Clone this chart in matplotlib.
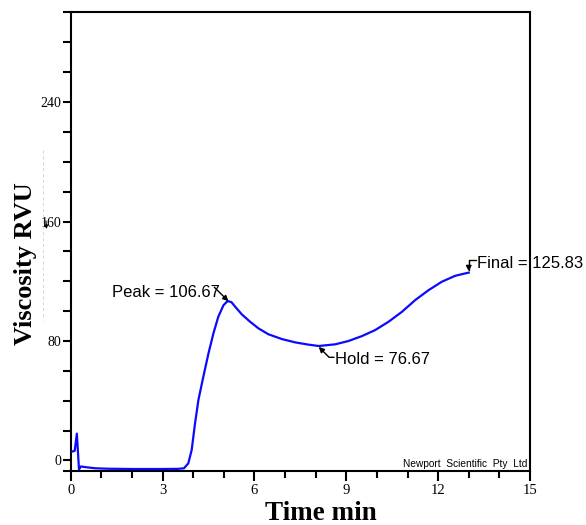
import matplotlib
matplotlib.use("Agg")
import matplotlib.pyplot as plt
from matplotlib.lines import Line2D

# RVA pasting curve (time in min, viscosity in RVU)
time_min = [0.05, 0.13, 0.20, 0.27, 0.33, 0.5, 0.8, 1.2, 2.0, 3.0, 3.5, 3.7,
            3.84, 3.95, 4.06, 4.17, 4.33, 4.5, 4.66, 4.82, 4.99, 5.1, 5.15,
            5.25, 5.37, 5.59, 5.86, 6.13, 6.46, 6.9, 7.33, 7.76, 8.1, 8.64,
            9.07, 9.51, 9.94, 10.38, 10.82, 11.25, 11.69, 12.12, 12.56, 13.0]
viscosity = [6, 6.5, 18, -6, -4, -4.5, -5.2, -5.5, -5.7, -5.7, -5.6, -5.2,
             -1.9, 7, 24.9, 40.5, 56, 71.8, 85.1, 96.3, 104, 106.3, 106.67,
             106, 103, 97.8, 92.9, 88.5, 84.5, 81.3, 79.1, 77.6, 76.67, 77.8,
             80, 83.3, 87.3, 92.9, 99.6, 107.4, 114.1, 119.7, 123.7, 125.83]

peak = (5.15, 106.67)
hold = (8.1, 76.67)
final = (13.0, 125.83)

xticks = [0, 3, 6, 9, 12, 15]
yticks = [0, 80, 160, 240]

serif = "Liberation Serif"
sans = "Liberation Sans"

fig = plt.figure(figsize=(5.86, 5.25), dpi=100)
ax = fig.add_axes([0.1207, 0.1038, 0.7837, 0.8724])

ax.plot(time_min, viscosity, color="#0a0aff", lw=1.6, zorder=3,
        solid_joinstyle="round")

ax.set_xlim(0, 15)
ax.set_ylim(-6.7, 300)

ax.set_xticks(xticks)
ax.set_xticks(range(0, 16), minor=True)
ax.set_yticks(yticks)
ax.set_yticks([-6.7] + list(range(0, 281, 20)) + [300], minor=True)

for s in ax.spines.values():
    s.set_linewidth(1.5)
ax.tick_params(axis="x", which="major", length=7, width=1.5, pad=2.5,
               labelsize=10.5)
ax.tick_params(axis="x", which="minor", length=5, width=1.5)
ax.tick_params(axis="y", which="both", length=6, width=1.5, pad=0.5,
               labelsize=10)
for lab in ax.get_xticklabels() + ax.get_yticklabels():
    lab.set_family(serif)

ax.set_xlabel("Time min", family=serif, fontweight="bold", fontsize=19.5)
ax.set_ylabel("Viscosity RVU", family=serif, fontweight="bold", fontsize=19)
ax.xaxis.set_label_coords(0.545, -0.066)
ax.yaxis.set_label_coords(-0.074, 0.452)

arrow = dict(arrowstyle="-|>", color="black", lw=1.0, mutation_scale=8,
             shrinkA=0, shrinkB=0)

# Peak
ax.text(1.34, 112.3, "Peak = 106.67", family=sans, fontsize=12,
        ha="left", va="center")
ax.annotate("", xy=peak, xytext=(4.69, 116), arrowprops=arrow)

# Hold
ax.text(8.62, 67.3, "Hold = 76.67", family=sans, fontsize=12,
        ha="left", va="center")
ax.annotate("", xy=(hold[0], hold[1] - 0.6), xytext=(8.6, 69.1),
            arrowprops=dict(arrow, connectionstyle="angle,angleA=0,angleB=-45,rad=0"))

# Final
ax.text(13.26, 132.2, "Final = 125.83", family=sans, fontsize=12,
        ha="left", va="center", zorder=1)
ax.annotate("", xy=(final[0], final[1] + 0.8), xytext=(13.24, 134.5),
            arrowprops=dict(arrow, connectionstyle="angle,angleA=0,angleB=90,rad=0"))

ax.text(0.995, 0.004, "Newport  Scientific  Pty  Ltd", transform=ax.transAxes,
        family=sans, fontsize=7.3, ha="right", va="bottom")

# faint guide line and stray mark beside the y labels
fig.add_artist(Line2D([43 / 586, 43 / 586], [1 - 150 / 525, 1 - 320 / 525],
                      transform=fig.transFigure, color="#cfcfcf", lw=0.6,
                      ls=(0, (4, 3))))
ax.annotate("", xy=(46.5 / 586, 1 - 229 / 525), xytext=(46 / 586, 1 - 221 / 525),
            xycoords="figure fraction", textcoords="figure fraction",
            arrowprops=dict(arrowstyle="-|>", color="black", lw=0.8,
                            mutation_scale=5, shrinkA=0, shrinkB=0))

fig.savefig("out.png", dpi=100)
